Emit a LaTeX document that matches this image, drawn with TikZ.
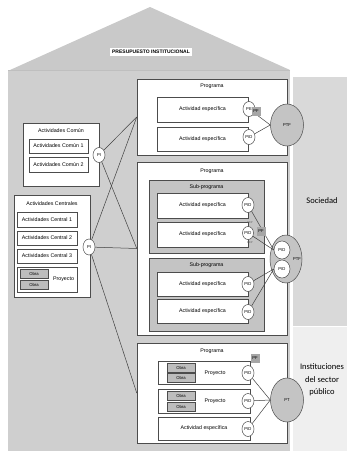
\documentclass[tikz,border=0pt]{standalone}
\usepackage{fontspec}
\setmainfont{Liberation Sans}
\newfontfamily\rotulo{Carlito}
\usetikzlibrary{shapes}

\definecolor{techo}{HTML}{C9C9C9}
\definecolor{casa}{HTML}{CFCFCF}
\definecolor{subp}{HTML}{C4C4C4}
\definecolor{soc}{HTML}{D9D9D9}
\definecolor{inst}{HTML}{EFEFEF}
\definecolor{obra}{HTML}{BDBDBD}
\definecolor{pf}{HTML}{A6A6A6}
\newcommand\chica{\fontsize{5.3}{6}\selectfont}
\newcommand\mini{\fontsize{4.2}{5}\selectfont}
\newcommand\micro{\fontsize{2.8}{3}\selectfont}

\begin{document}
\begin{tikzpicture}[x=1pt,y=-1pt,line width=0.5pt,
        caja/.style={draw=black!70,fill=white,inner sep=0pt,font=\chica},
        ovalo/.style={shape=ellipse,draw=black!70,fill=white,inner sep=0pt,minimum width=12pt,minimum height=15pt,font=\mini},
        grande/.style={shape=ellipse,draw=black!70,fill=subp,inner sep=0pt,font=\mini},
        obrabox/.style={draw=black!70,fill=obra,inner sep=0pt,minimum width=28pt,minimum height=9pt,font=\mini},
        pfbox/.style={fill=pf,inner sep=0pt,minimum width=9pt,minimum height=9pt,font=\mini},
        texto/.style={inner sep=0pt,font=\chica}]
                \useasboundingbox (0,0) rectangle (347,451);
                % fondo: casa y columna derecha
                \fill[techo] (10,70) -- (150,7) -- (290,70) -- cycle;
                \fill[casa] (8,70) rectangle (290,451);
                \draw[black!25] (8,70) -- (290,70);
                \fill[soc] (293,77) rectangle (347,326);
                \fill[inst] (293,327) rectangle (347,451);
                \node[texto,font=\rotulo\fontsize{8.5}{10}\selectfont](soc)at(322, 201){Sociedad};
                \node[texto,font=\rotulo\fontsize{8.5}{12.5}\selectfont,align=center](inst)at(322, 380){Instituciones\\del sector\\público};
                \node[fill=white,inner sep=2pt,font=\fontsize{5}{6}\selectfont\bfseries](titulo)at(151, 52){PRESUPUESTO INSTITUCIONAL};
                % actividades comunes
                \node[caja,minimum width=76pt,minimum height=63pt](comun)at(61, 154.5){};
                \node[texto](comunlbl)at(61, 131){Actividades Común};
                \node[caja,minimum width=59pt,minimum height=14pt](c1)at(58.5, 146){Actividades Común 1};
                \node[caja,minimum width=59pt,minimum height=15pt](c2)at(58.5, 164.5){Actividades Común 2};
                \node[ovalo,minimum height=15pt](pic)at(99, 155){PI};
                % actividades centrales
                \node[caja,minimum width=76pt,minimum height=102pt](central)at(52, 246){};
                \node[texto](centrallbl)at(52, 204){Actividades Centrales};
                \node[caja,minimum width=60pt,minimum height=15pt](ce1)at(47, 219.5){Actividades Central 1};
                \node[caja,minimum width=60pt,minimum height=14pt](ce2)at(47, 238){Actividades Central 2};
                \node[caja,minimum width=60pt,minimum height=14pt](ce3)at(47, 256){Actividades Central 3};
                \node[caja,minimum width=60pt,minimum height=25pt](pyc)at(47, 279.5){};
                \node[obrabox](obc1)at(34, 273.5){Obra};
                \node[obrabox](obc2)at(34, 285){Obra};
                \node[texto](pyclbl)at(63.5, 279){Proyecto};
                \node[ovalo,minimum width=12pt,minimum height=16pt](pice)at(89, 247){PI};
                % programa 1
                \node[caja,minimum width=150pt,minimum height=76pt](prog1)at(212, 117){};
                \node[texto](prog1lbl)at(212, 86){Programa};
                \node[caja,minimum width=91pt,minimum height=25pt](a11)at(202.5, 109.5){Actividad específica};
                \node[caja,minimum width=91pt,minimum height=24pt](a12)at(202.5, 139){Actividad específica};
                \node[ovalo](pe11)at(249, 109){PE};
                \node[ovalo](pd12)at(249, 137){PID};
                \node[grande,minimum width=33pt,minimum height=42pt](ptf1)at(287, 125){PTF};
                % programa 2
                \node[caja,minimum width=150pt,minimum height=173pt](prog2)at(212, 248.5){};
                \node[texto](prog2lbl)at(212, 171){Programa};
                \node[caja,fill=subp,minimum width=115pt,minimum height=73pt](sub1)at(206.5, 216.5){};
                \node[texto](sub1lbl)at(206.5, 187){Sub-programa};
                \node[caja,minimum width=91pt,minimum height=25pt](a21)at(202.5, 205.5){Actividad específica};
                \node[caja,minimum width=91pt,minimum height=25pt](a22)at(202.5, 234.5){Actividad específica};
                \node[ovalo](pd21)at(248, 205){PID};
                \node[ovalo,minimum width=11pt,minimum height=13pt](pd22)at(248, 233){PID};
                \node[texto,font=\micro,text=black!60](pep1)at(250, 222.5){PEP};
                \node[texto,font=\micro,text=black!60](pep2)at(250, 242.5){PEP};
                \node[caja,fill=subp,minimum width=115pt,minimum height=73pt](sub2)at(206.5, 294.5){};
                \node[texto](sub2lbl)at(206.5, 265){Sub-programa};
                \node[caja,minimum width=91pt,minimum height=24pt](a23)at(202.5, 284){Actividad específica};
                \node[caja,minimum width=91pt,minimum height=24pt](a24)at(202.5, 311.5){Actividad específica};
                \node[ovalo](pd23)at(248, 284){PID};
                \node[ovalo](pd24)at(248, 312){PID};
                \node[grande,minimum width=32pt,minimum height=48pt](ptf2)at(286, 259){};
                \node[texto,font=\mini](ptf2lbl)at(297, 259){PTF};
                \node[ovalo,minimum width=16pt,minimum height=18pt](pda)at(282, 250){PID};
                \node[ovalo,minimum width=16pt,minimum height=18pt](pdb)at(282, 269){PID};
                % programa 3
                \node[caja,minimum width=150pt,minimum height=100pt](prog3)at(212, 393){};
                \node[texto](prog3lbl)at(212, 351){Programa};
                \node[caja,minimum width=92pt,minimum height=23pt](py1)at(204, 372.5){};
                \node[obrabox](ob11)at(181, 367.5){Obra};
                \node[obrabox](ob12)at(181, 378){Obra};
                \node[texto](py1lbl)at(215, 373){Proyecto};
                \node[caja,minimum width=92pt,minimum height=24pt](py2)at(204, 401){};
                \node[obrabox](ob21)at(181, 396){Obra};
                \node[obrabox](ob22)at(181, 406.5){Obra};
                \node[texto](py2lbl)at(215, 401){Proyecto};
                \node[caja,minimum width=92pt,minimum height=23pt](a31)at(204, 428.5){Actividad específica};
                \node[ovalo](pid31)at(248, 373){PID};
                \node[ovalo](pid32)at(248, 401){PID};
                \node[ovalo](pid33)at(248, 429){PID};
                \node[grande,minimum width=33pt,minimum height=44pt](pt)at(287, 400){PT};
                % conexiones
                \path[draw=black!75](pic) edge (prog1.west)
                (pic) edge (prog2.west)
                (pice) edge (prog1.west)
                (pice) edge (prog2.west)
                (pice) edge (prog3.west)
                (pe11) edge (ptf1.west)
                (pd12) edge (ptf1.west)
                (pd21) edge (pda.west)
                (pd22) edge (pda.west)
                (pd23) edge (pdb.west)
                (pd24) edge (pdb.west)
                (pid31) edge (pt.west)
                (pid32) edge (pt.west)
                (pid33) edge (pt.west);
                % fuentes de financiamiento
                \node[pfbox](pf1)at(256, 111){PF};
                \node[pfbox](pf2)at(261, 231){PF};
                \node[pfbox](pf3)at(255, 358){PF};
            \end{tikzpicture}
\end{document}
